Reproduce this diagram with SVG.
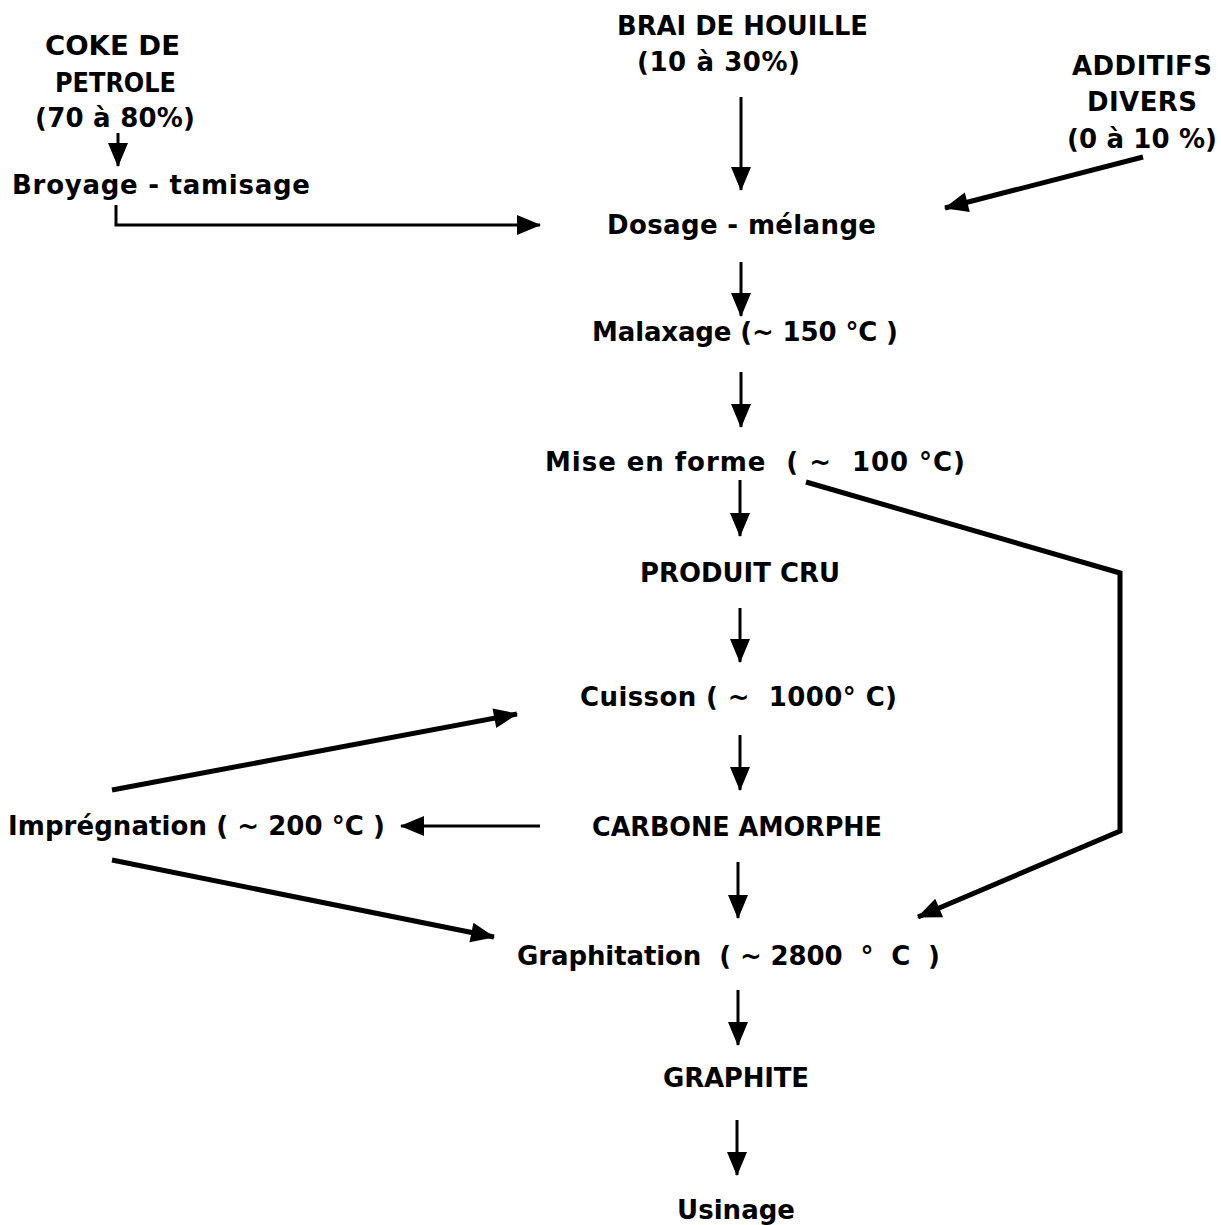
<svg xmlns="http://www.w3.org/2000/svg" width="1221" height="1225" viewBox="0 0 1221 1225">
<style>
text{font-family:"DejaVu Sans","Liberation Sans",Arial,sans-serif;font-weight:bold;font-size:26px;fill:#000;white-space:pre}
.l{fill:none;stroke:#000;stroke-width:3}
.t{fill:none;stroke:#000;stroke-width:5}
</style>
<defs>
<marker id="ah" markerUnits="userSpaceOnUse" markerWidth="24" markerHeight="20" refX="23" refY="10" orient="auto" overflow="visible">
<path d="M0,0 L24,10 L0,20 z" fill="#000"/>
</marker>
</defs>
<rect width="1221" height="1225" fill="#fff"/>
<g id="coke">
<text x="45" y="55" textLength="135" lengthAdjust="spacingAndGlyphs">COKE DE</text>
<text x="55" y="92" textLength="121" lengthAdjust="spacingAndGlyphs">PETROLE</text>
<text x="35" y="127" textLength="160" lengthAdjust="spacing">(70 à 80%)</text>
</g>
<g id="broyage">
<text x="12" y="194" textLength="298" lengthAdjust="spacing" xml:space="preserve">Broyage - tamisage</text>
</g>
<g id="brai">
<text x="617" y="35" textLength="251" lengthAdjust="spacingAndGlyphs">BRAI DE HOUILLE</text>
<text x="637" y="71" textLength="163" lengthAdjust="spacing">(10 à 30%)</text>
</g>
<g id="additifs">
<text x="1072" y="75" textLength="140" lengthAdjust="spacing">ADDITIFS</text>
<text x="1087" y="111" textLength="110" lengthAdjust="spacing">DIVERS</text>
<text x="1067" y="148" textLength="150" lengthAdjust="spacing">(0 à 10 %)</text>
</g>
<g id="dosage">
<text x="607" y="234" textLength="269" lengthAdjust="spacing" xml:space="preserve">Dosage - mélange</text>
</g>
<g id="malaxage">
<text x="592" y="341" textLength="306" lengthAdjust="spacing" xml:space="preserve">Malaxage (~ 150 °C )</text>
</g>
<g id="mise">
<text x="545" y="471" textLength="420" lengthAdjust="spacing" xml:space="preserve">Mise en forme  ( ~  100 °C)</text>
</g>
<g id="produit">
<text x="640" y="582" textLength="200" lengthAdjust="spacingAndGlyphs">PRODUIT CRU</text>
</g>
<g id="cuisson">
<text x="580" y="706" textLength="317" lengthAdjust="spacing" xml:space="preserve">Cuisson ( ~  1000° C)</text>
</g>
<g id="carbone">
<text x="592" y="836" textLength="290" lengthAdjust="spacingAndGlyphs">CARBONE AMORPHE</text>
</g>
<g id="impregnation">
<text x="8" y="835" textLength="377" lengthAdjust="spacing" xml:space="preserve">Imprégnation ( ~ 200 °C )</text>
</g>
<g id="graphitation">
<text x="517" y="965" textLength="423" lengthAdjust="spacing" xml:space="preserve">Graphitation  ( ~ 2800  °  C  )</text>
</g>
<g id="graphite">
<text x="663" y="1087" textLength="146" lengthAdjust="spacing">GRAPHITE</text>
</g>
<g id="usinage">
<text x="677" y="1219" textLength="118" lengthAdjust="spacing">Usinage</text>
</g>
<g id="connectors">
<line class="l" x1="118" y1="133" x2="118" y2="166" marker-end="url(#ah)"/>
<polyline class="l" points="116,205 116,225 540,225" marker-end="url(#ah)"/>
<line class="l" x1="741" y1="97" x2="741" y2="190" marker-end="url(#ah)"/>
<line class="t" x1="1143" y1="157" x2="945" y2="208" marker-end="url(#ah)"/>
<line class="l" x1="741" y1="262" x2="741" y2="316" marker-end="url(#ah)"/>
<line class="l" x1="741" y1="372" x2="741" y2="427" marker-end="url(#ah)"/>
<line class="l" x1="740" y1="480" x2="740" y2="536" marker-end="url(#ah)"/>
<polyline class="t" points="806,482 1120,573 1120,831 918,917" marker-end="url(#ah)"/>
<line class="l" x1="740" y1="608" x2="740" y2="662" marker-end="url(#ah)"/>
<line class="l" x1="740" y1="735" x2="740" y2="790" marker-end="url(#ah)"/>
<line class="l" x1="540" y1="826" x2="401" y2="826" marker-end="url(#ah)"/>
<line class="t" x1="112" y1="790" x2="517" y2="714" marker-end="url(#ah)"/>
<line class="t" x1="112" y1="860" x2="494" y2="937" marker-end="url(#ah)"/>
<line class="l" x1="738" y1="862" x2="738" y2="918" marker-end="url(#ah)"/>
<line class="l" x1="738" y1="990" x2="738" y2="1045" marker-end="url(#ah)"/>
<line class="l" x1="737" y1="1120" x2="737" y2="1175" marker-end="url(#ah)"/>
</g>
</svg>
